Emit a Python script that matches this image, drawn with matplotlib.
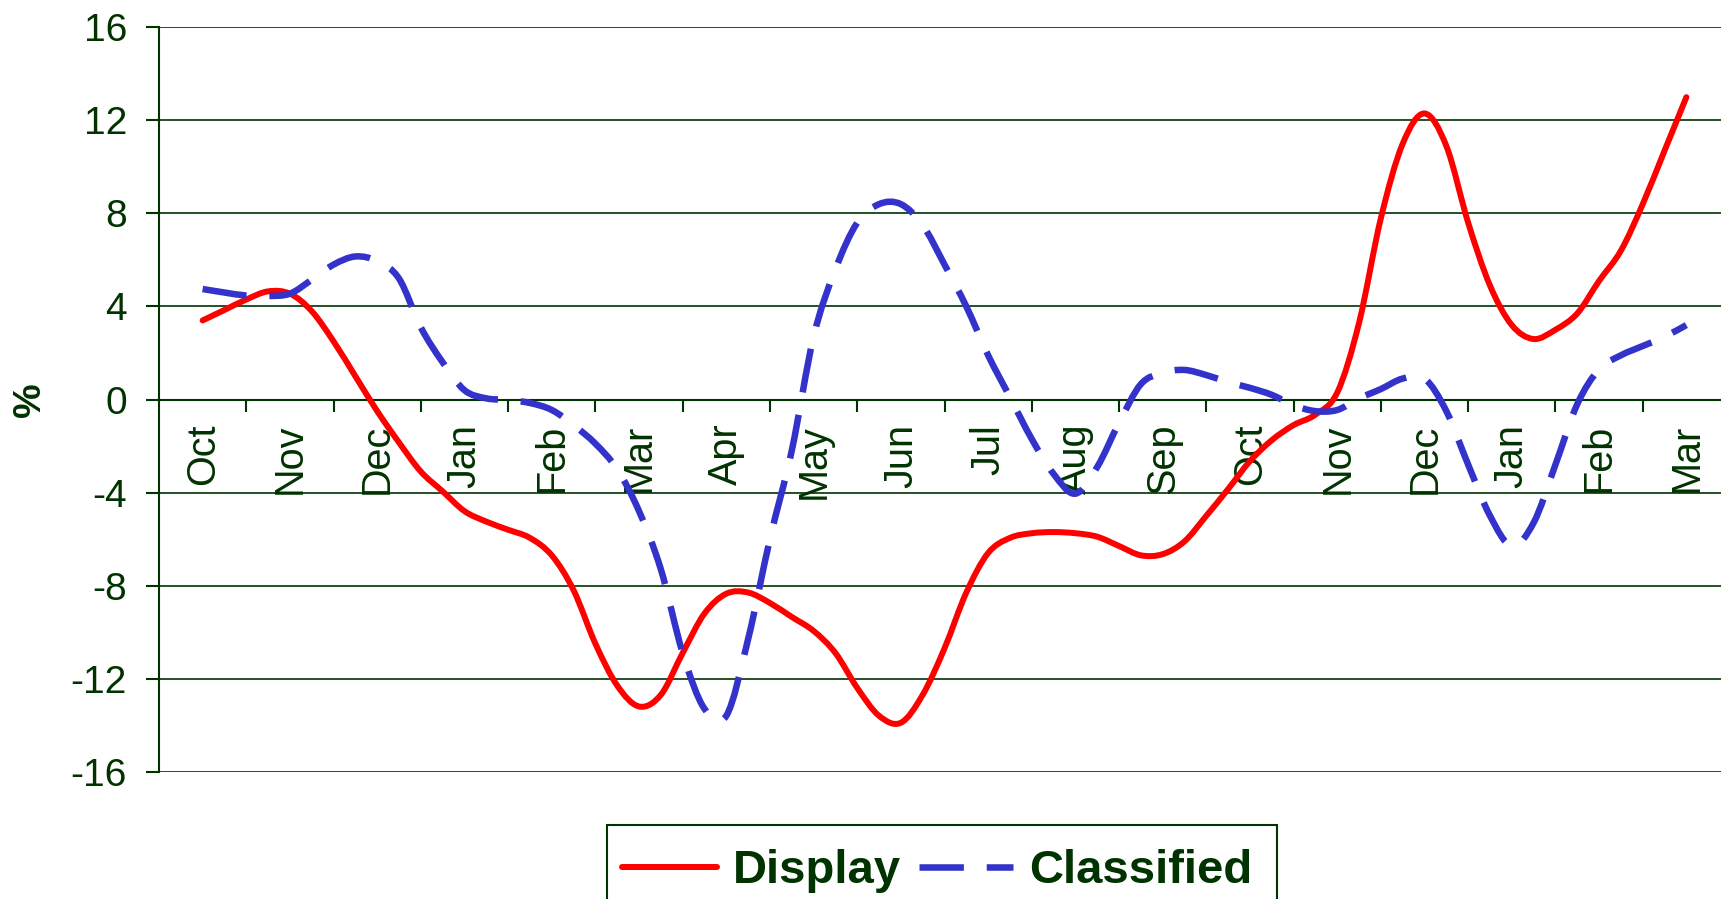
import numpy as np
import matplotlib
matplotlib.use("Agg")
import matplotlib.pyplot as plt
from matplotlib.lines import Line2D
from matplotlib.patches import PathPatch, Rectangle
from matplotlib.path import Path

# Month categories along the x axis (Oct through the following-year Mar)
months = ["Oct", "Nov", "Dec", "Jan", "Feb", "Mar", "Apr", "May", "Jun",
          "Jul", "Aug", "Sep", "Oct", "Nov", "Dec", "Jan", "Feb", "Mar"]

# Weekly year-on-year change (%), four readings per month
display = [3.4, 3.85, 4.3, 4.65, 4.55, 3.8, 2.5, 1.0,
           -0.5, -1.85, -3.1, -3.95, -4.8, -5.25, -5.6, -5.95,
           -6.7, -8.2, -10.5, -12.3, -13.2, -12.7, -10.9, -9.2,
           -8.35, -8.3, -8.75, -9.35, -9.95, -10.9, -12.4, -13.6,
           -13.9, -12.7, -10.7, -8.3, -6.6, -5.95, -5.75, -5.7,
           -5.75, -5.9, -6.3, -6.7, -6.65, -6.1, -5.0, -3.85,
           -2.65, -1.75, -1.1, -0.65, 0.3, 3.3, 7.8, 11.0,
           12.3, 10.9, 7.6, 4.9, 3.2, 2.6, 3.0, 3.7,
           5.1, 6.4, 8.4, 10.7, 13.0]

classified = [4.75, 4.6, 4.47, 4.45, 4.55, 5.15, 5.8, 6.15,
              5.95, 5.2, 3.1, 1.6, 0.4, 0.05, -0.02, -0.15,
              -0.45, -1.1, -1.9, -3.0, -4.8, -7.3, -10.9, -13.3,
              -13.6, -10.3, -6.0, -2.2, 2.7, 5.6, 7.6, 8.4,
              8.4, 7.5, 5.8, 4.0, 1.9, 0.1, -1.7, -3.2,
              -4.05, -2.9, -1.0, 0.66, 1.15, 1.27, 1.05, 0.75,
              0.5, 0.2, -0.25, -0.5, -0.45, 0.05, 0.45, 0.9,
              0.9, -0.5, -2.8, -5.0, -6.3, -5.3, -2.8, -0.2,
              1.3, 1.9, 2.3, 2.7, 3.2]

y_ticks = [-16, -12, -8, -4, 0, 4, 8, 12, 16]

GREEN = "#003300"
RED = "#FF0000"
BLUE = "#3333CC"
RED_LW = 4.3
BLUE_LW = 4.7
BLUE_DASH = (6.8, 3.5)


def smooth_path(xs, ys):
    """Cubic Bezier path passing through every data point (Catmull-Rom tangents)."""
    pts = np.column_stack([xs, ys]).astype(float)
    padded = np.vstack([pts[0], pts, pts[-1]])
    verts = [pts[0]]
    codes = [Path.MOVETO]
    for i in range(len(pts) - 1):
        p0, p1, p2, p3 = padded[i], padded[i + 1], padded[i + 2], padded[i + 3]
        c1 = p1 + (p2 - p0) / 6.0
        c2 = p2 - (p3 - p1) / 6.0
        verts += [c1, c2, p2]
        codes += [Path.CURVE4] * 3
    return Path(verts, codes)


plt.rcParams["font.family"] = ["Liberation Sans", "DejaVu Sans"]

W, H = 1721, 899
fig = plt.figure(figsize=(W / 100, H / 100), dpi=100)
left, right, top, bottom = 159, 1730, 27.4, 771.6
ax = fig.add_axes([left / W, 1 - bottom / H, (right - left) / W, (bottom - top) / H])

steps_per_month = 4
x = np.arange(len(display)) / steps_per_month

ax.set_xlim(-0.5, len(months) - 0.5)
ax.set_ylim(y_ticks[0], y_ticks[-1])

# Spines: left axis line and the category axis crossing at zero
for side in ("top", "right"):
    ax.spines[side].set_visible(False)
ax.spines["bottom"].set_position(("data", 0))
ax.spines["bottom"].set_color(GREEN)
ax.spines["bottom"].set_linewidth(1.5)
ax.spines["left"].set_color(GREEN)
ax.spines["left"].set_linewidth(1.5)

ax.set_yticks(y_ticks)
ax.set_yticklabels([str(v) for v in y_ticks])
ax.tick_params(axis="y", direction="out", length=9.4, width=1.5, color=GREEN,
               labelsize=28, labelcolor=GREEN, pad=13.7)

ax.set_xticks(np.arange(len(months)))
ax.set_xticklabels(months, rotation=90)
ax.set_xticks(np.arange(len(months) - 1) + 0.5, minor=True)
ax.tick_params(axis="x", which="major", length=0, labelsize=28.5,
               labelcolor=GREEN, pad=17.5)
ax.tick_params(axis="x", which="minor", direction="out", length=8.6,
               width=1.5, color=GREEN)

ax.yaxis.grid(True, color=GREEN, linewidth=1.2)
ax.xaxis.grid(False)

ax.add_patch(PathPatch(smooth_path(x, display), fill=False, edgecolor=RED,
                       linewidth=RED_LW, joinstyle="round", capstyle="round",
                       zorder=3))
ax.add_patch(PathPatch(smooth_path(x, classified), fill=False, edgecolor=BLUE,
                       linewidth=BLUE_LW, linestyle=(0, BLUE_DASH),
                       capstyle="butt", zorder=3))

fig.text(30 / W, 1 - 400 / H, "%", rotation=90, ha="center", va="center",
         fontsize=28, fontweight="bold", color=GREEN)

# Legend: entries plus a frame running off the bottom edge
fig.patches.append(Rectangle((607 / W, -0.05), (1276.5 - 607) / W,
                             (899 - 825) / H + 0.05, transform=fig.transFigure,
                             fill=False, edgecolor=GREEN, linewidth=1.5))
handles = [Line2D([], [], color=RED, linewidth=RED_LW, solid_capstyle="round"),
           Line2D([], [], color=BLUE, linewidth=BLUE_LW, dashes=BLUE_DASH)]
leg = fig.legend(handles, ["Display", "Classified"], ncol=2,
                 loc="upper left", bbox_to_anchor=(607 / W, 1 - 834 / H),
                 bbox_transform=fig.transFigure, frameon=False,
                 borderpad=0.32, handlelength=2.0, handletextpad=0.34,
                 columnspacing=0.38, borderaxespad=0,
                 prop={"weight": "bold", "size": 34})
for t in leg.get_texts():
    t.set_color(GREEN)

fig.savefig("out.png", dpi=100, facecolor="white")
